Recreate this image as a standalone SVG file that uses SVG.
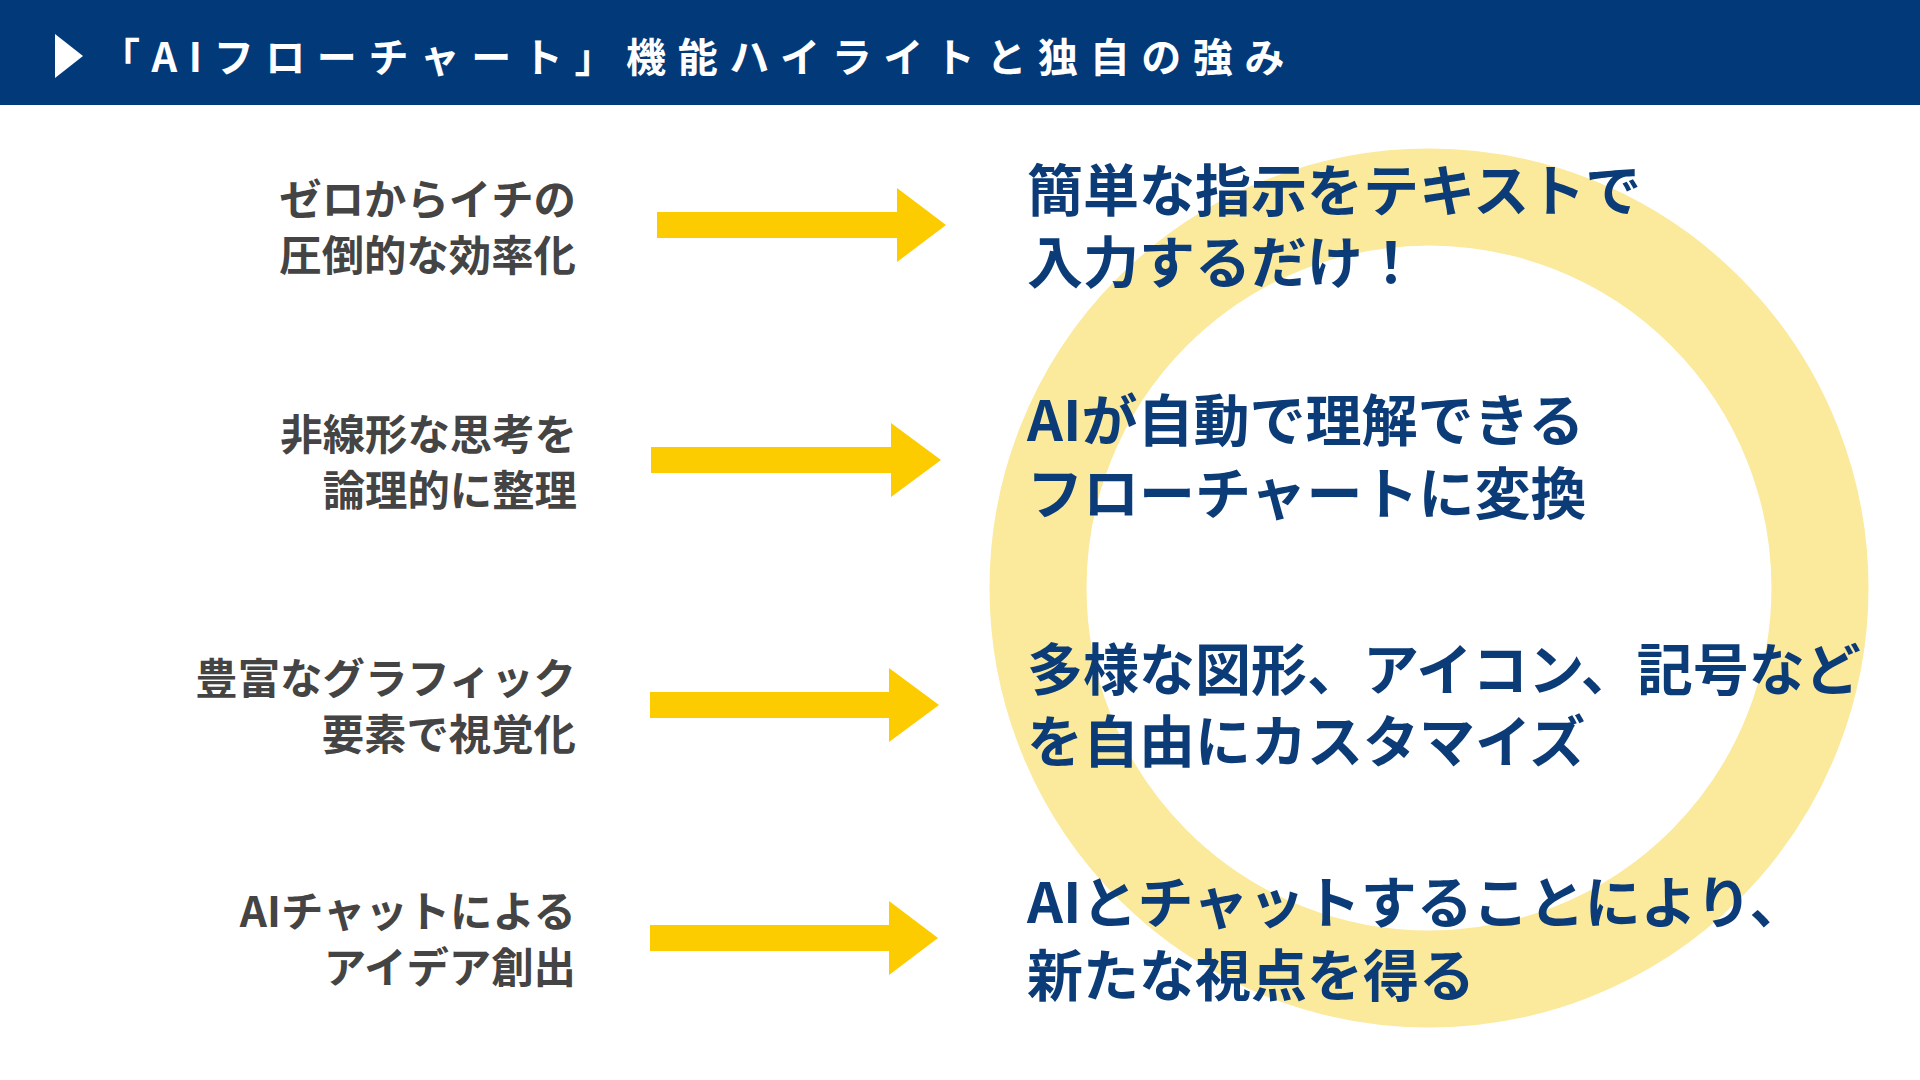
<svg xmlns="http://www.w3.org/2000/svg" width="1920" height="1080" viewBox="0 0 1920 1080">
  <defs>
    <style>
      .title { font-family: "Noto Sans CJK JP", "Noto Sans", sans-serif; font-weight: 700; font-size: 40px; fill: #ffffff; letter-spacing: 11.6px; }
      .left { font-family: "Noto Sans CJK JP", "Noto Sans", sans-serif; font-weight: 700; font-size: 42.4px; fill: #444444; text-anchor: end; }
      .right { font-family: "Noto Sans CJK JP", "Noto Sans", sans-serif; font-weight: 700; font-size: 56px; fill: #0c3c78; }
      .arrow { fill: #fccb00; }
    </style>
  </defs>
  <rect x="0" y="0" width="1920" height="1080" fill="#ffffff"/>
  <g id="header">
    <rect x="0" y="0" width="1920" height="105" fill="#023a79"/>
    <polygon points="55,34 83,56 55,78" fill="#ffffff"/>
    <text class="title" x="100" y="72">「AIフローチャート」機能ハイライトと独自の強み</text>
  </g>
  <g id="ring">
    <circle cx="1429" cy="588" r="391" fill="none" stroke="#fbe99c" stroke-width="97"/>
  </g>
  <g id="left-1"><text class="left" x="576" y="215">ゼロからイチの</text><text class="left" x="576" y="271">圧倒的な効率化</text></g>
  <g id="left-2"><text class="left" x="577" y="450">非線形な思考を</text><text class="left" x="577" y="506">論理的に整理</text></g>
  <g id="left-3"><text class="left" x="576" y="694">豊富なグラフィック</text><text class="left" x="576" y="750">要素で視覚化</text></g>
  <g id="left-4"><text class="left" x="576" y="927">AIチャットによる</text><text class="left" x="576" y="983">アイデア創出</text></g>
  <g id="connectors">
    <polygon class="arrow" points="657,212 897,212 897,188 946,225 897,262 897,238 657,238"/>
    <polygon class="arrow" points="651,447 891,447 891,423 941,460 891,497 891,473 651,473"/>
    <polygon class="arrow" points="650,692 889,692 889,668 939,705 889,742 889,718 650,718"/>
    <polygon class="arrow" points="650,925 889,925 889,901 938,938 889,975 889,951 650,951"/>
  </g>
  <g id="right-1"><text class="right" x="1027" y="211">簡単な指示をテキストで</text><text class="right" x="1027" y="283">入力するだけ！</text></g>
  <g id="right-2"><text class="right" x="1027" y="441">AIが自動で理解できる</text><text class="right" x="1027" y="514">フローチャートに変換</text></g>
  <g id="right-3"><text class="right" x="1027" y="690">多様な図形、アイコン、記号など</text><text class="right" x="1027" y="762">を自由にカスタマイズ</text></g>
  <g id="right-4"><text class="right" x="1027" y="923">AIとチャットすることにより、</text><text class="right" x="1027" y="996">新たな視点を得る</text></g>
</svg>
